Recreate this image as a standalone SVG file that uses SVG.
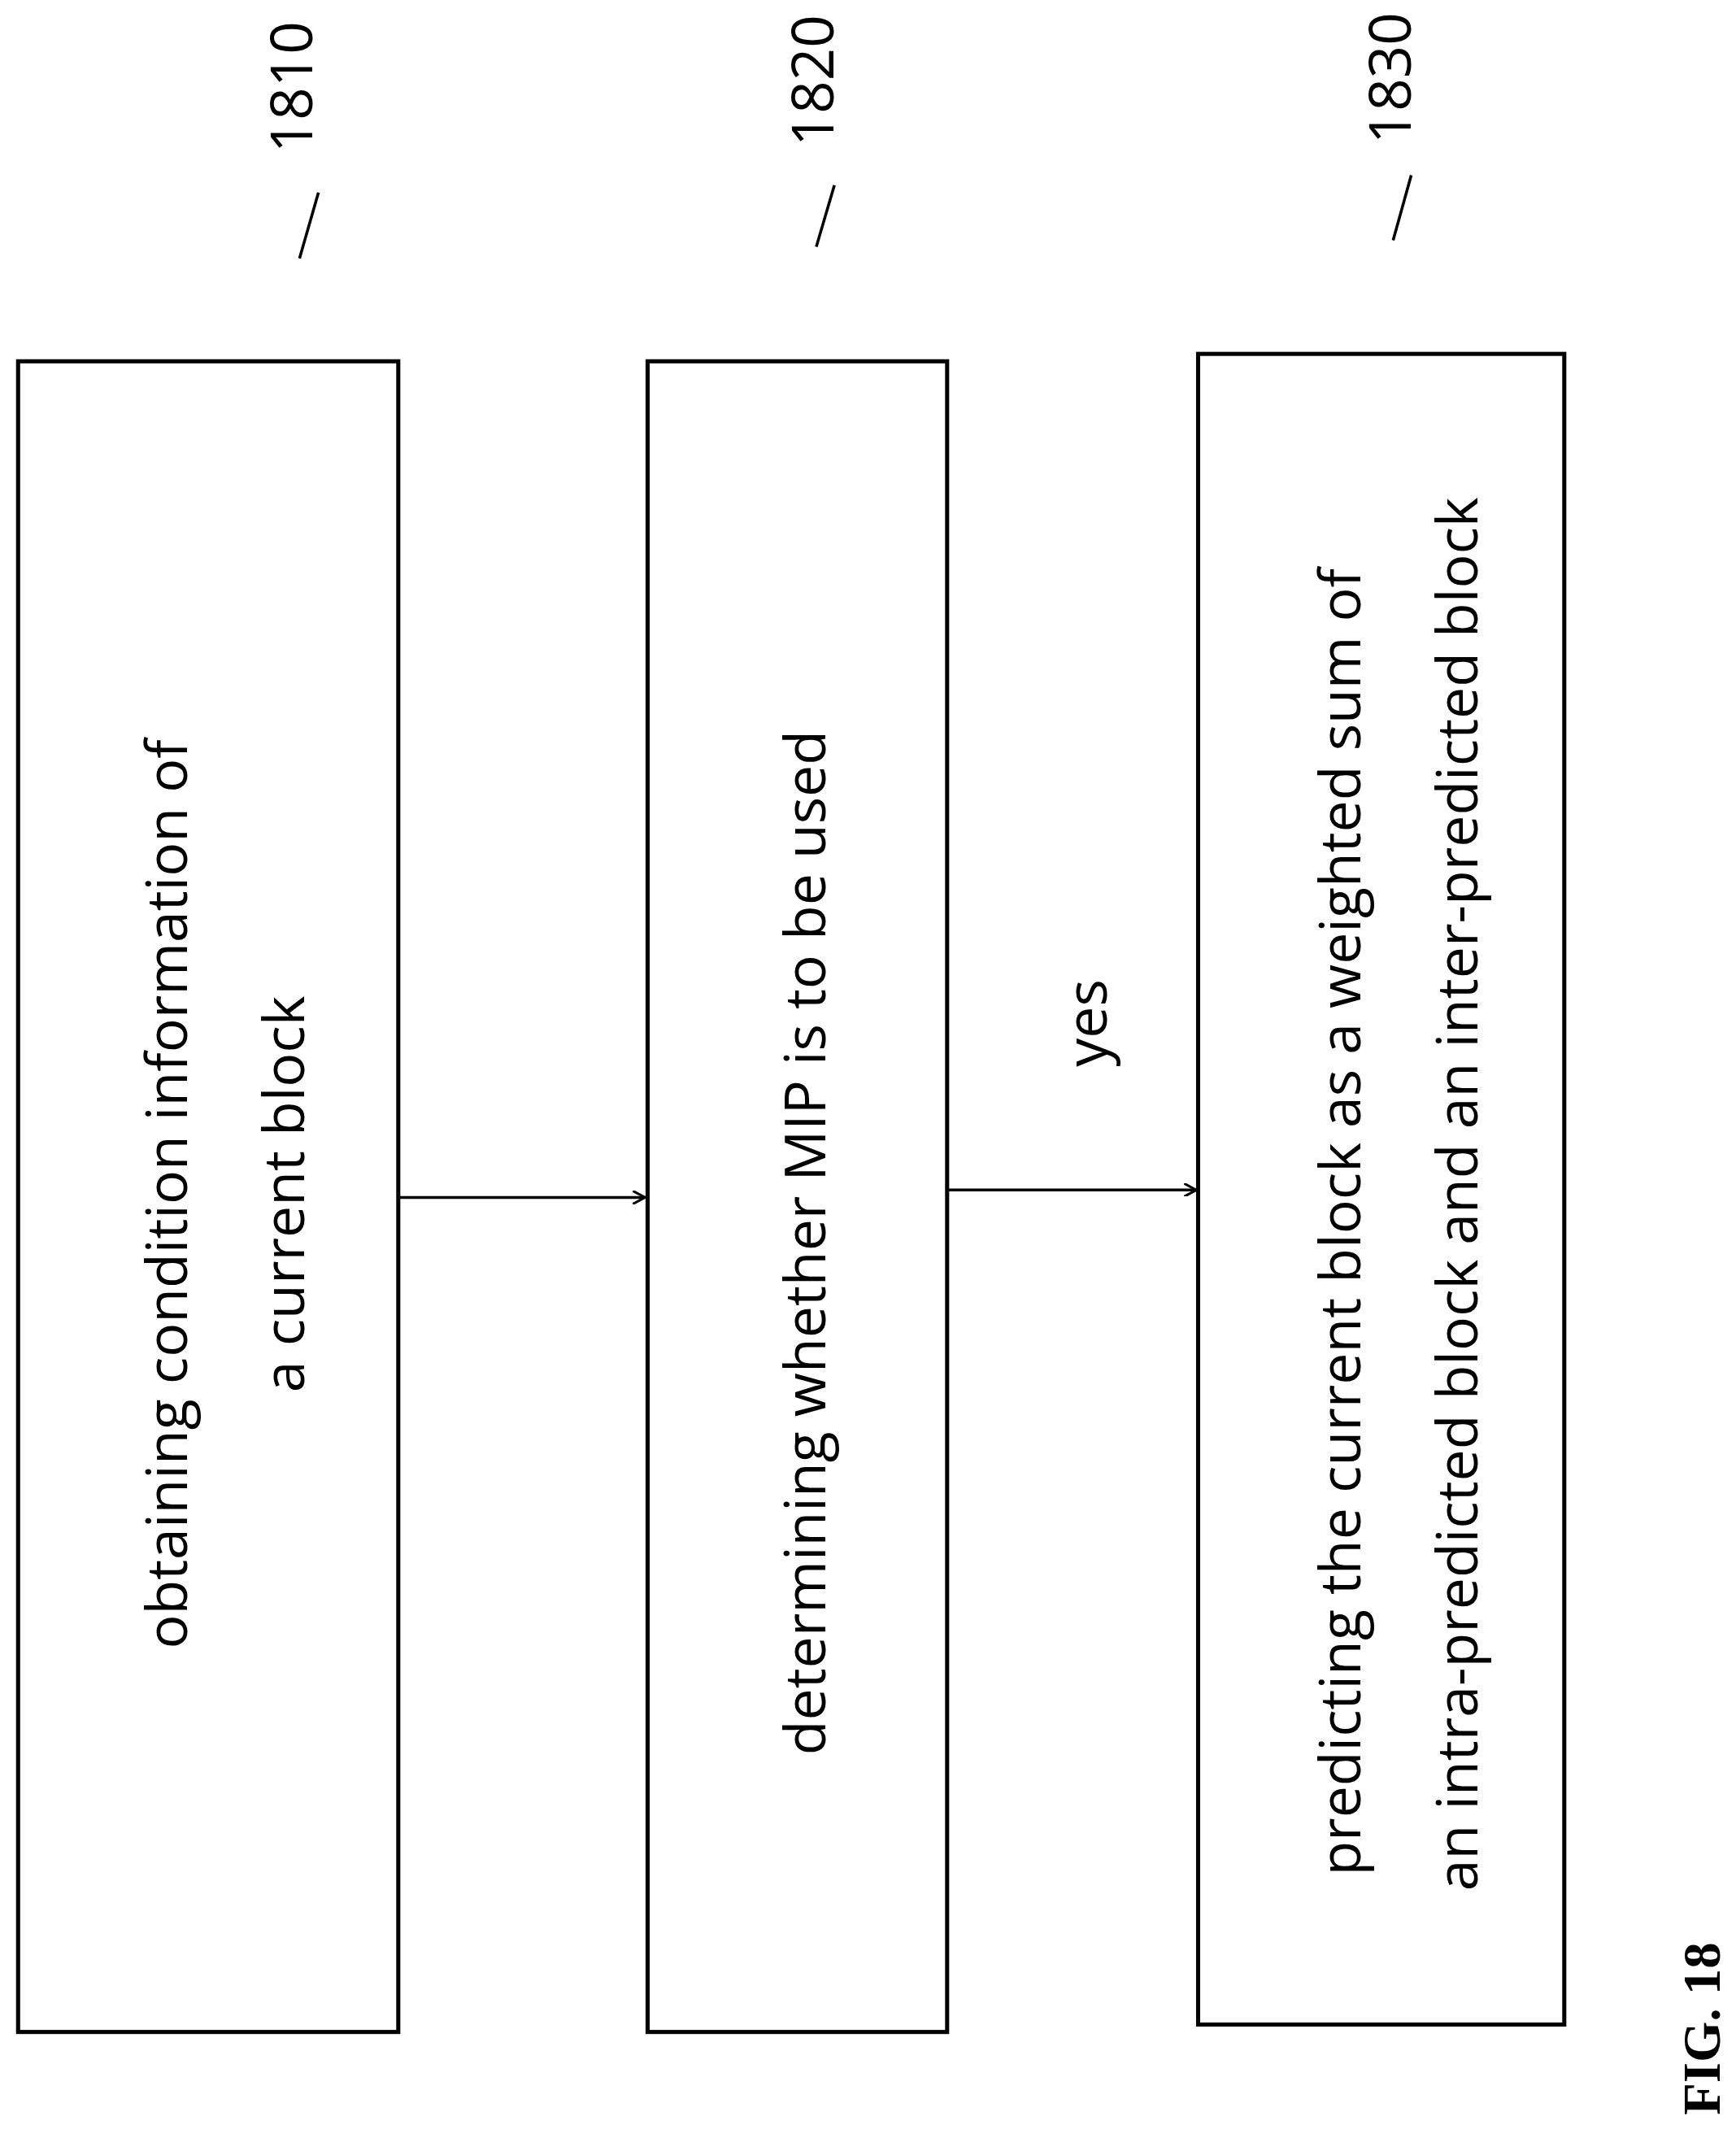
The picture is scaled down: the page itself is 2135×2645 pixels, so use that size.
<svg xmlns="http://www.w3.org/2000/svg" width="2135" height="2645" viewBox="0 0 2135 2645">
<style>
.b{fill:#fff;stroke:#000;stroke-width:5}
.t{font-family:"Open Sans","Liberation Sans",sans-serif;font-size:69px;text-anchor:middle;dominant-baseline:central}
.n{font-family:"Open Sans","Liberation Sans",sans-serif;font-size:70px;text-anchor:middle;dominant-baseline:central}
.l{stroke:#000;stroke-width:3.5;fill:none}
</style>
<defs><marker id="a" markerWidth="16" markerHeight="16" refX="15" refY="8" orient="auto" markerUnits="userSpaceOnUse"><path d="M0,0 L15,8 L0,16" fill="none" stroke="#000" stroke-width="3"/></marker></defs>
<rect width="2135" height="2645" fill="#fff"/>
<g transform="scale(1.012)">
<g id="n1810">
<rect class="b" x="22" y="439" width="462" height="2030"/>
<text class="t" transform="translate(200,1451) rotate(-90)">obtaining condition information of</text>
<text class="t" transform="translate(342,1451) rotate(-90)">a current block</text>
<text class="n" transform="translate(352,106) rotate(-90)">1810</text>
<path class="l" d="M364,314 L387,234"/>
</g>
<g id="n1820">
<rect class="b" x="787" y="439" width="364" height="2030"/>
<text class="t" transform="translate(976,1510) rotate(-90)">determining whether MIP is to be used</text>
<text class="n" transform="translate(986,98) rotate(-90)">1820</text>
<path class="l" d="M992,300 L1014,225"/>
</g>
<g id="n1830">
<rect class="b" x="1456" y="430" width="445" height="2030"/>
<text class="t" transform="translate(1626,1485) rotate(-90)">predicting the current block as a weighted sum of</text>
<text class="t" transform="translate(1768,1451) rotate(-90)">an intra-predicted block and an inter-predicted block</text>
<text class="n" transform="translate(1687,95) rotate(-90)">1830</text>
<path class="l" d="M1693,292 L1715,213"/>
</g>
<g id="connectors">
<path class="l" d="M484,1455 L784,1455" marker-end="url(#a)"/>
<path class="l" d="M1151,1446 L1454,1446" marker-end="url(#a)"/>
<text class="t" transform="translate(1318,1243) rotate(-90)">yes</text>
</g>
<text transform="translate(2068,2465) rotate(-90)" font-family="Liberation Serif,serif" font-weight="bold" font-size="64" text-anchor="middle" dominant-baseline="central">FIG. 18</text>
</g>
</svg>
